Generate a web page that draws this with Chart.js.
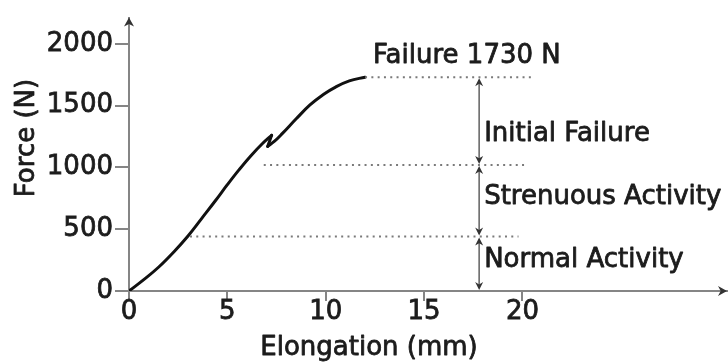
<!DOCTYPE html>
<html>
<head>
<meta charset="utf-8">
<script src="https://cdn.jsdelivr.net/npm/chart.js@4.4.1/dist/chart.umd.min.js"></script>
<style>
  html, body { margin: 0; padding: 0; background: #fff; }
  #wrap { width: 728px; height: 362px; }
</style>
</head>
<body>
<div id="wrap"><canvas id="c" width="728" height="362"></canvas></div>
<script>
// Force–elongation curve of the tested specimen (mm, N)
const elongation = [0, 0.8, 1.5, 2.3, 3.0, 3.7, 4.4, 5.0, 5.6, 6.2, 6.8, 7.25, 7.05, 7.4, 7.8, 8.5, 9.2, 9.9, 10.5, 11.2, 12.0];
const force      = [0, 98, 192, 320, 445, 588, 732, 860, 982, 1095, 1195, 1260, 1170, 1212, 1275, 1393, 1505, 1592, 1650, 1700, 1730];
const spikeIndex = 11; // peak just before the small load drop

const xTicks = [0, 5, 10, 15, 20];
const yTicks = [0, 500, 1000, 1500, 2000];

// Load levels (N) and the extent of their dotted guide lines (mm)
const levelForce = [440, 1020, 1730];
const levelFrom  = [3.1, 6.85, 12.0];
const levelTo    = [19.8, 20.3, 20.5];

// Load zones marked by double-headed arrows
const zoneNames = ['Normal Activity', 'Strenuous Activity', 'Initial Failure'];
const zoneLow   = [0, 440, 1020];
const zoneHigh  = [440, 1020, 1730];
const arrowAt   = 17.8;

const failureAt    = 12.0;
const failureForce = 1730;
const failureText  = 'Failure 1730 N';

const FONT = '"DejaVu Sans", "Liberation Sans", sans-serif';
const INK = '#1c1c1c';
const AXIS = '#858585';
const TEXT_SIZE = 26;
const TEXT_STROKE = 0.8;

const pts = (xs, ys) => xs.map((x, i) => ({ x, y: ys[i] }));
const curve = pts(elongation, force);

const datasets = [];
levelForce.forEach((f, i) => {
  datasets.push({
    data: [{ x: levelFrom[i], y: f }, { x: levelTo[i], y: f }],
    borderColor: '#7a7a7a', borderWidth: 2, borderDash: [2, 4.3],
    pointRadius: 0, showLine: true, tension: 0
  });
});
const curveStyle = { borderColor: '#111', borderWidth: 3, pointRadius: 0, showLine: true,
  borderCapStyle: 'round', borderJoinStyle: 'round' };
datasets.push(Object.assign({ data: curve.slice(0, spikeIndex + 1), tension: 0.4 }, curveStyle));
datasets.push(Object.assign({ data: curve.slice(spikeIndex, spikeIndex + 2), tension: 0 }, curveStyle));
datasets.push(Object.assign({ data: curve.slice(spikeIndex + 1), tension: 0.4 }, curveStyle));

function head(ctx, x, y, dir, w, h, color) {
  // dir: 'up' | 'down' | 'right'
  ctx.save();
  ctx.fillStyle = color;
  ctx.beginPath();
  if (dir === 'up') { ctx.moveTo(x, y); ctx.lineTo(x - w / 2, y + h); ctx.lineTo(x, y + h * 0.7); ctx.lineTo(x + w / 2, y + h); }
  else if (dir === 'down') { ctx.moveTo(x, y); ctx.lineTo(x - w / 2, y - h); ctx.lineTo(x, y - h * 0.7); ctx.lineTo(x + w / 2, y - h); }
  else { ctx.moveTo(x, y); ctx.lineTo(x - h, y - w / 2); ctx.lineTo(x - h * 0.7, y); ctx.lineTo(x - h, y + w / 2); }
  ctx.closePath();
  ctx.fill();
  ctx.restore();
}

// filled text with a thin outline of the same ink, for a medium weight
function label(ctx, text, x, y) {
  ctx.fillText(text, x, y);
  ctx.strokeText(text, x, y);
}

const decorations = {
  id: 'decorations',
  afterDatasetsDraw(chart) {
    const { ctx, chartArea: a, scales: { x, y } } = chart;

    // axis arrowheads
    head(ctx, a.left, a.top, 'up', 10, 9, '#333');
    head(ctx, a.right, a.bottom, 'right', 10, 9, '#333');

    const setText = (align, baseline) => {
      ctx.font = TEXT_SIZE + 'px ' + FONT;
      ctx.fillStyle = INK;
      ctx.strokeStyle = INK;
      ctx.lineWidth = TEXT_STROKE;
      ctx.lineJoin = 'round';
      ctx.textAlign = align;
      ctx.textBaseline = baseline;
    };

    // zone arrows and their labels
    const ax = x.getPixelForValue(arrowAt);
    const nudge = [-4, -4, 13];
    zoneNames.forEach((name, i) => {
      const yTop = y.getPixelForValue(zoneHigh[i]);
      const yBot = y.getPixelForValue(zoneLow[i]);
      ctx.save();
      ctx.strokeStyle = '#6a6a6a';
      ctx.lineWidth = 1.6;
      ctx.beginPath();
      ctx.moveTo(ax, yTop + 3);
      ctx.lineTo(ax, yBot - 3);
      ctx.stroke();
      ctx.restore();
      head(ctx, ax, yTop + 1, 'up', 8, 8, '#333');
      head(ctx, ax, yBot - 1, 'down', 8, 8, '#333');

      ctx.save();
      setText('left', 'middle');
      label(ctx, name, ax + 5, (yTop + yBot) / 2 + nudge[i]);
      ctx.restore();
    });

    // failure label
    ctx.save();
    setText('left', 'alphabetic');
    label(ctx, failureText, x.getPixelForValue(failureAt) + 8, y.getPixelForValue(failureForce) - 14);
    ctx.restore();

    // axis titles
    ctx.save();
    setText('center', 'alphabetic');
    label(ctx, 'Elongation (mm)', 369, 355);
    ctx.translate(34, 138);
    ctx.rotate(-Math.PI / 2);
    label(ctx, 'Force (N)', 0, 0);
    ctx.restore();
  }
};

const tickText = { color: INK, textStrokeColor: INK, textStrokeWidth: TEXT_STROKE,
  font: { family: FONT, size: TEXT_SIZE }, callback: v => String(v) };

new Chart(document.getElementById('c'), {
  type: 'scatter',
  data: { datasets },
  options: {
    responsive: false,
    animation: false,
    devicePixelRatio: 1,
    layout: { padding: { top: 10, right: 1, left: 0, bottom: 0 } },
    plugins: { legend: { display: false }, tooltip: { enabled: false } },
    scales: {
      x: {
        type: 'linear', min: 0, max: 30.4,
        afterBuildTicks: s => { s.ticks = xTicks.map(v => ({ value: v })); },
        afterFit: s => { s.height = 71; },
        border: { color: AXIS, width: 2 },
        grid: { drawOnChartArea: false, drawTicks: true, tickLength: 10, color: AXIS, lineWidth: 2 },
        ticks: Object.assign({ autoSkip: false, maxRotation: 0, padding: -4 }, tickText)
      },
      y: {
        type: 'linear', min: 0, max: 2212,
        afterBuildTicks: s => { s.ticks = yTicks.map(v => ({ value: v })); },
        afterFit: s => { s.width = 129; },
        border: { color: AXIS, width: 2 },
        grid: { drawOnChartArea: false, drawTicks: true, tickLength: 14, color: AXIS, lineWidth: 2 },
        ticks: Object.assign({ padding: 2 }, tickText)
      }
    }
  },
  plugins: [decorations]
});
</script>
</body>
</html>
